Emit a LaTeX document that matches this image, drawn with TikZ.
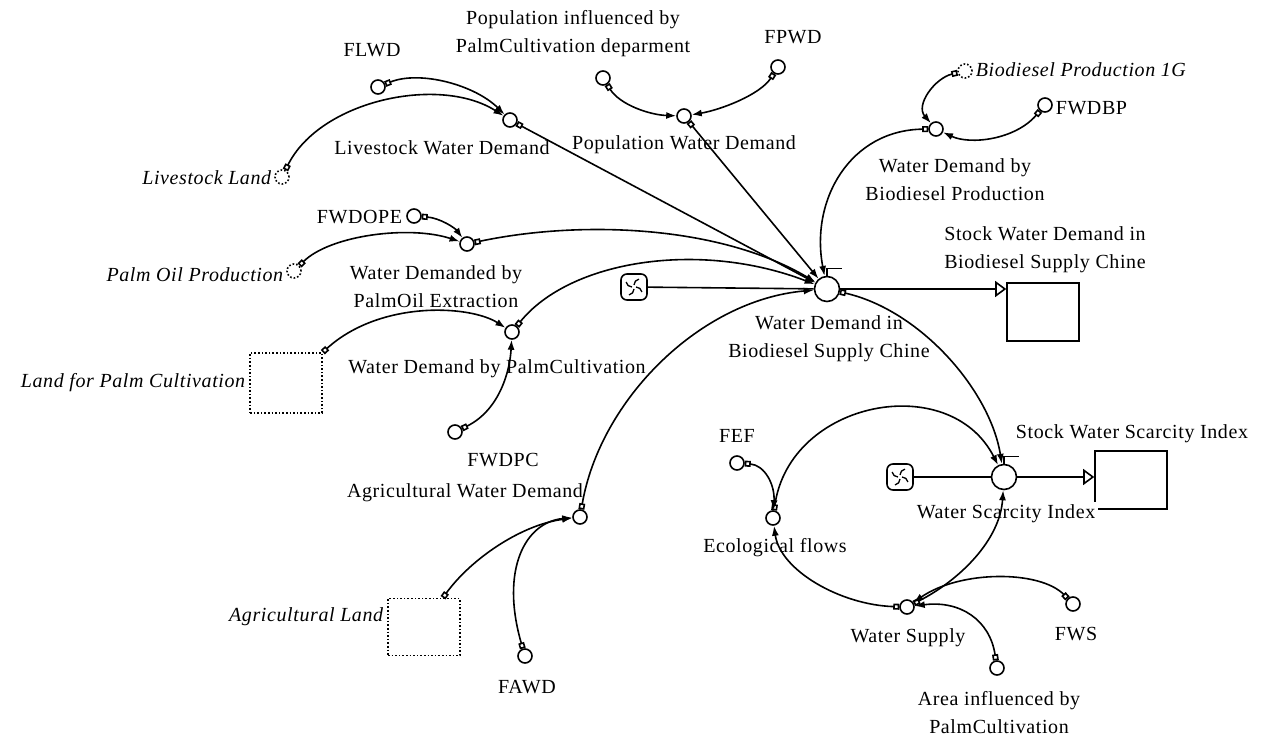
\documentclass[tikz,border=0pt]{standalone}
\usepackage{fontspec}
\setmainfont{Liberation Serif}[LetterSpace=3]
\usetikzlibrary{arrows.meta}

% swirl inside a cloud
\newcommand\swirl[1]{\foreach \a in {0,90,180,270}
  \draw[line width=1.3pt,shift={(#1.center)},rotate=\a] (2,0) arc[start angle=-90,end angle=-10,radius=6];}

\begin{document}
\begin{tikzpicture}[x=1pt,y=-1pt,line width=1.6pt,font=\fontsize{20}{28}\selectfont,
  aux/.style={circle,draw,inner sep=0pt,minimum size=14pt},
  shadow/.style={aux,dotted},
  ghost/.style={draw,dotted,minimum width=72pt,minimum height=60pt},
  stock/.style={draw,minimum width=72pt,minimum height=58pt},
  valve/.style={circle,draw,inner sep=0pt,minimum size=25pt},
  cloud/.style={draw,rounded corners=6pt,minimum size=26pt,inner sep=0pt},
  lbl/.style={align=center,inner sep=1pt},
  link/.style={{Square[open,length=6pt,width=6pt]}-{Latex[length=10pt,width=7pt]}},
  pipe/.style={-{Triangle[open,length=11pt,width=16pt]}}]
\useasboundingbox (0,0) rectangle (1261,738);

% variables
\node[aux] (flwd) at (378,87) {};
\node[lbl] (t-flwd) at (372,50) {FLWD};
\node[aux] (lwd) at (510,120) {};
\node[lbl] (t-lwd) at (442,148) {Livestock Water Demand};
\node[shadow] (llnd) at (282,177) {};
\node[lbl,anchor=east,font=\fontsize{20}{28}\selectfont\itshape] (t-llnd) at (273,178) {Livestock Land};
\node[aux] (popinf) at (603,78) {};
\node[lbl] (t-popinf) at (573,34) {Population influenced by\\PalmCultivation deparment};
\node[aux] (fpwd) at (778,67) {};
\node[lbl] (t-fpwd) at (793,37) {FPWD};
\node[aux] (pwd) at (684,116) {};
\node[lbl] (t-pwd) at (684,145) {Population Water Demand};
\node[shadow] (bp1g) at (965,71) {};
\node[lbl,anchor=west,font=\fontsize{20}{28}\selectfont\itshape] (t-bp1g) at (974,70) {Biodiesel Production 1G};
\node[aux] (fwdbp) at (1045,105) {};
\node[lbl,anchor=west] (t-fwdbp) at (1054,108) {FWDBP};
\node[aux] (wdbp) at (936,129) {};
\node[lbl] (t-wdbp) at (955,180) {Water Demand by\\Biodiesel Production};
\node[aux] (fwdope) at (414,216) {};
\node[lbl,anchor=east] (t-fwdope) at (404,217) {FWDOPE};
\node[aux] (wdope) at (467,244) {};
\node[lbl] (t-wdope) at (436,287) {Water Demanded by\\PalmOil Extraction};
\node[shadow] (pop) at (294,271) {};
\node[lbl,anchor=east,font=\fontsize{20}{28}\selectfont\itshape] (t-pop) at (285,275) {Palm Oil Production};
\node[ghost] (lpc) at (286,383) {};
\node[lbl,anchor=east,font=\fontsize{20}{28}\selectfont\itshape] (t-lpc) at (247,383) {Land for Palm Cultivation};
\node[aux] (wdpc) at (512,332) {};
\node[lbl] (t-wdpc) at (497,369) {Water Demand by PalmCultivation};
\node[aux] (fwdpc) at (455,432) {};
\node[lbl] (t-fwdpc) at (503,460) {FWDPC};
\node[aux] (awd) at (580,517) {};
\node[lbl] (t-awd) at (465,493) {Agricultural Water Demand};
\node[ghost,minimum height=57pt] (agl) at (424,627) {};
\node[lbl,anchor=east,font=\fontsize{20}{28}\selectfont\itshape] (t-agl) at (385,617) {Agricultural Land};
\node[aux] (fawd) at (525,656) {};
\node[lbl] (t-fawd) at (527,687) {FAWD};
\node[aux] (fef) at (737,463) {};
\node[lbl] (t-fef) at (737,436) {FEF};
\node[aux] (ef) at (773,518) {};
\node[lbl] (t-ef) at (775,548) {Ecological flows};
\node[aux] (ws) at (907,607) {};
\node[lbl] (t-ws) at (908,638) {Water Supply};
\node[aux] (fws) at (1073,604) {};
\node[lbl] (t-fws) at (1076,634) {FWS};
\node[aux] (aipc) at (997,668) {};
\node[lbl] (t-aipc) at (999,713) {Area influenced by\\PalmCultivation};

% flows and stocks
\node[cloud] (cloud1) at (634,287) {};
\swirl{cloud1}
\node[valve] (wdbsc) at (827,289) {};
\node[lbl] (t-wdbsc) at (829,339) {Water Demand in\\Biodiesel Supply Chine};
\node[stock] (stock1) at (1043,312) {};
\node[lbl] (t-stock1) at (1045,250) {Stock Water Demand in\\Biodiesel Supply Chine};
\draw (cloud1) -- (wdbsc);
\draw[pipe] (wdbsc) -- (wdbsc -| stock1.west);
\draw[line width=1.2pt] (wdbsc.north) -- ++(0,-7) -- ++(15,0);

\node[cloud] (cloud2) at (900,477) {};
\swirl{cloud2}
\node[valve] (wsi) at (1004,477) {};
\node[stock] (stock2) at (1131,480) {};
\node[lbl] (t-stock2) at (1132,434) {Stock Water Scarcity Index};
\node[lbl,fill=white,inner sep=3pt] (t-wsi) at (1006,514) {Water Scarcity Index};
\draw (cloud2) -- (wsi);
\draw[pipe] (wsi) -- (wsi -| stock2.west);
\draw[line width=1.2pt] (wsi.north) -- ++(0,-7) -- ++(15,0);

% links
\draw[link] (flwd) .. controls (420,70) and (475,85) .. (lwd);
\draw[link] (llnd) .. controls (320,100) and (440,75) .. (lwd);
\draw[link] (lwd) -- (wdbsc);
\draw[link] (popinf) .. controls (620,105) and (650,115) .. (pwd);
\draw[link] (fpwd) .. controls (760,95) and (720,110) .. (pwd);
\draw[link] (pwd) -- (wdbsc);
\draw[link] (bp1g) .. controls (935,78) and (915,105) .. (wdbp);
\draw[link] (fwdbp) .. controls (1015,140) and (970,145) .. (wdbp);
\draw[link] (wdbp) .. controls (850,130) and (810,200) .. (wdbsc);
\draw[link] (fwdope) .. controls (440,218) and (455,228) .. (wdope);
\draw[link] (pop) .. controls (330,235) and (410,225) .. (wdope);
\draw[link] (wdope) .. controls (580,220) and (720,225) .. (wdbsc);
\draw[link] (lpc.north east) .. controls (380,300) and (470,305) .. (wdpc);
\draw[link] (fwdpc) .. controls (500,410) and (510,370) .. (wdpc);
\draw[link] (wdpc) .. controls (570,260) and (700,240) .. (wdbsc);
\draw[link] ([xshift=19pt]agl.north) .. controls (470,560) and (520,525) .. (awd);
\draw[link] (fawd) .. controls (500,570) and (525,522) .. (awd);
\draw[link] (awd) .. controls (600,400) and (700,300) .. (wdbsc);
\draw[link] (wdbsc) .. controls (920,310) and (990,390) .. (wsi);
\draw[link] (fef) .. controls (765,465) and (775,485) .. (ef);
\draw[link] (ef) .. controls (790,400) and (950,370) .. (wsi);
\draw[link] (ws) .. controls (840,605) and (780,570) .. (ef);
\draw[link] (ws) .. controls (960,580) and (1000,540) .. (wsi);
\draw[link] (fws) .. controls (1040,570) and (960,570) .. (ws);
\draw[link] (aipc) .. controls (990,620) and (960,600) .. (ws);
\end{tikzpicture}
\end{document}
